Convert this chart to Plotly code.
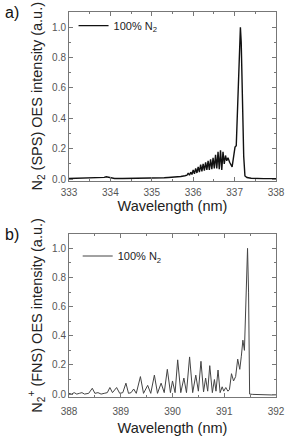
import plotly.graph_objects as go

# ---- Panel a: N2 SPS band (337 nm) ----
sps_wl = [333.00, 333.10, 333.20, 333.30, 333.40, 333.50, 333.60, 333.70, 333.80, 333.85,
          333.90, 333.95, 334.00, 334.10, 334.30, 334.50, 334.70, 334.90, 335.00, 335.10,
          335.20, 335.30, 335.40, 335.50, 335.60, 335.70, 335.80, 335.85, 335.88, 335.91,
          335.94, 335.97, 336.00, 336.03, 336.06, 336.09, 336.12, 336.15, 336.18, 336.21,
          336.24, 336.27, 336.30, 336.33, 336.36, 336.39, 336.42, 336.45, 336.48, 336.51,
          336.54, 336.57, 336.60, 336.63, 336.66, 336.69, 336.72, 336.75, 336.78, 336.81,
          336.84, 336.88, 336.94, 336.98, 337.01, 337.04, 337.08, 337.12, 337.14, 337.16,
          337.19, 337.22, 337.25, 337.30, 337.40, 337.50, 337.60, 337.70, 337.80, 337.90, 338.00]
sps_int = [0.004, 0.005, 0.004, 0.005, 0.004, 0.005, 0.005, 0.006, 0.007, 0.011,
           0.015, 0.012, 0.006, 0.004, 0.004, 0.004, 0.005, 0.005, 0.005, 0.006,
           0.007, 0.008, 0.010, 0.011, 0.013, 0.017, 0.022, 0.025, 0.040, 0.025,
           0.045, 0.030, 0.060, 0.035, 0.070, 0.040, 0.080, 0.045, 0.095, 0.050,
           0.100, 0.055, 0.110, 0.060, 0.120, 0.060, 0.130, 0.065, 0.140, 0.070,
           0.160, 0.070, 0.180, 0.065, 0.190, 0.060, 0.180, 0.100, 0.155, 0.120,
           0.140, 0.110, 0.080, 0.170, 0.210, 0.220, 0.550, 0.950, 1.000, 0.900,
           0.550, 0.150, 0.020, 0.010, 0.005, 0.003, 0.004, 0.003, 0.003, 0.003, 0.003]

# ---- Panel b: N2+ FNS band (391 nm) ----
fns_wl = [388.00, 388.05, 388.10, 388.15, 388.20, 388.25, 388.30, 388.38, 388.45, 388.50,
          388.56, 388.62, 388.68, 388.74, 388.79, 388.84, 388.92, 388.98, 389.04, 389.10,
          389.15, 389.20, 389.25, 389.30, 389.38, 389.44, 389.52, 389.58, 389.65, 389.71,
          389.78, 389.84, 389.90, 389.96, 390.00, 390.05, 390.10, 390.16, 390.22, 390.27,
          390.33, 390.39, 390.45, 390.50, 390.55, 390.60, 390.64, 390.68, 390.72, 390.77,
          390.81, 390.84, 390.88, 390.92, 390.96, 390.99, 391.03, 391.07, 391.10, 391.14,
          391.18, 391.22, 391.26, 391.30, 391.33, 391.36, 391.39, 391.42, 391.45, 391.47,
          391.49, 391.55, 391.65, 391.75, 391.85, 391.92, 392.00]
fns_int = [0.005, 0.000, 0.010, 0.000, 0.005, 0.010, 0.000, 0.005, 0.040, 0.005,
           0.010, 0.000, 0.005, 0.010, 0.045, 0.010, 0.045, 0.005, 0.010, 0.075,
           0.005, 0.010, 0.035, 0.005, 0.120, 0.005, 0.060, 0.005, 0.130, 0.005,
           0.075, 0.010, 0.170, 0.010, 0.090, 0.010, 0.235, 0.010, 0.110, 0.010,
           0.255, 0.010, 0.130, 0.020, 0.225, 0.015, 0.110, 0.020, 0.195, 0.010,
           0.100, 0.020, 0.165, 0.010, 0.050, 0.020, 0.045, 0.020, 0.030, 0.140,
           0.090, 0.120, 0.240, 0.170, 0.260, 0.370, 0.300, 0.600, 1.000, 0.700,
           0.000, -0.002, -0.003, -0.008, -0.005, -0.006, -0.005]

series_name = "100% N<sub>2</sub>"
x_title = "Wavelength (nm)"
y_title_a = "N<sub>2</sub> (SPS) OES intensity (a.u.)"
y_title_b = "N<sub>2</sub><sup>+</sup> (FNS) OES intensity (a.u.)"

FONT = "Liberation Sans, Arial, sans-serif"
tickfont = dict(family=FONT, size=10, color="#555555")
titlefont = dict(family=FONT, size=14.5, color="#222222")

fig = go.Figure()
fig.add_trace(go.Scatter(x=sps_wl, y=sps_int, mode="lines", name=series_name,
                         line=dict(color="#111111", width=1.4), showlegend=True,
                         xaxis="x", yaxis="y", legend="legend"))
fig.add_trace(go.Scatter(x=fns_wl, y=fns_int, mode="lines", name=series_name,
                         line=dict(color="#444444", width=1), showlegend=True,
                         xaxis="x2", yaxis="y2", legend="legend2"))

def xax(rng, dtick, anchor, lab_off, title_off):
    return dict(range=rng, dtick=dtick, anchor=anchor, domain=[0, 1],
                showline=True, mirror="ticks", linecolor="#777777", linewidth=1,
                ticks="inside", ticklen=4, tickcolor="#777777",
                minor=dict(ticks="inside", ticklen=2, dtick=0.5, tickcolor="#777777"),
                showgrid=False, zeroline=False, tickfont=tickfont, ticklabelstandoff=lab_off,
                title=dict(text=x_title, font=titlefont, standoff=title_off))

def yax(dom, rng, anchor, title):
    return dict(range=rng, dtick=0.2, anchor=anchor, domain=dom, tickformat=".1f",
                showline=True, mirror="ticks", linecolor="#777777", linewidth=1,
                ticks="inside", ticklen=4, tickcolor="#777777",
                minor=dict(ticks="inside", ticklen=2, dtick=0.1, tickcolor="#777777"),
                showgrid=False, zeroline=False, tickfont=tickfont,
                title=dict(text=title, font=titlefont, standoff=6))

fig.update_layout(
    width=296, height=444,
    margin=dict(l=69, r=12, t=11, b=39),
    paper_bgcolor="white", plot_bgcolor="white",
    showlegend=True,
    xaxis=xax([333, 338], 1, "y", 2, 4),
    yaxis=yax([0.5622, 1.0], [-0.01, 1.1], "x", y_title_a),
    xaxis2=xax([388, 392], 1, "y2", 5, 6),
    yaxis2=yax([0.0, 0.4239], [-0.02, 1.1], "x2", y_title_b),
    legend=dict(x=0.022, y=0.9645, xanchor="left", yanchor="middle",
                bgcolor="rgba(0,0,0,0)", font=dict(family=FONT, size=11, color="#222222")),
    legend2=dict(x=0.042, y=0.3662, xanchor="left", yanchor="middle",
                 bgcolor="rgba(0,0,0,0)", font=dict(family=FONT, size=11, color="#222222")),
    annotations=[
        dict(text="a)", x=0, y=12, xref="paper", yref="paper", showarrow=False,
             xanchor="left", yanchor="middle", font=dict(family=FONT, size=16, color="#111111")),
        dict(text="b)", x=0, y=239, xref="paper", yref="paper", showarrow=False,
             xanchor="left", yanchor="middle", font=dict(family=FONT, size=16, color="#111111")),
    ],
)
# convert the panel-label pixel rows into paper coordinates
plot_h = 444 - 11 - 39
for ann in fig.layout.annotations:
    ann.y = (444 - 39 - ann.y) / plot_h
    ann.x = -69 / (296 - 69 - 12)

fig.write_html("out.html")
